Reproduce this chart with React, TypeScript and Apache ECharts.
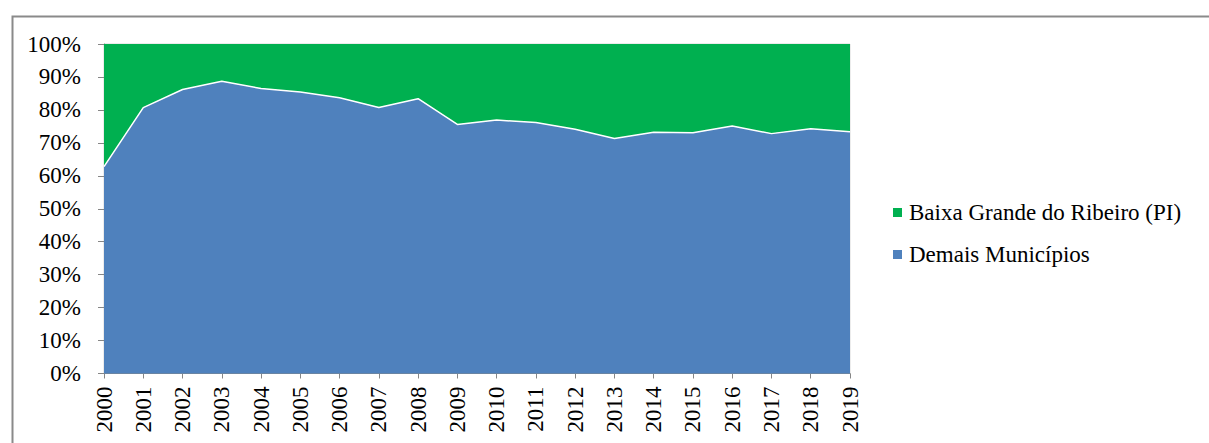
import React, { useEffect, useRef } from "react";
import * as echarts from "echarts";

const years = ["2000","2001","2002","2003","2004","2005","2006","2007","2008","2009","2010","2011","2012","2013","2014","2015","2016","2017","2018","2019"];
const demais = [62.8, 80.7, 86.2, 88.7, 86.5, 85.4, 83.7, 80.7, 83.4, 75.6, 76.9, 76.2, 74.1, 71.3, 73.2, 73.1, 75.1, 72.8, 74.3, 73.4];
const baixa = demais.map((v) => +(100 - v).toFixed(1));
const yTicks = [0, 10, 20, 30, 40, 50, 60, 70, 80, 90, 100];

const FONT = "Liberation Serif";
const FS = 23;

export default function App() {
  const ref = useRef<HTMLDivElement>(null);
  useEffect(() => {
    if (!ref.current) return;
    const chart = echarts.init(ref.current, undefined, { renderer: "svg" });
    chart.setOption({
      animation: false,
      backgroundColor: "#ffffff",
      textStyle: { fontFamily: FONT },
      graphic: [
        {
          type: "rect",
          left: 10,
          top: 14,
          shape: { width: 1400, height: 700 },
          style: { fill: "none", stroke: "#8a8a8a", lineWidth: 2 },
          silent: true,
        },
      ],
      grid: {
        left: 104,
        right: 359,
        top: 44,
        bottom: 69.5,
        show: true,
        borderColor: "#d9d9d9",
        borderWidth: 1,
        backgroundColor: "transparent",
      },
      legend: {
        orient: "vertical",
        left: 888,
        top: 196,
        itemWidth: 9,
        itemHeight: 9,
        itemGap: 19,
        icon: "rect",
        data: ["Baixa Grande do Ribeiro (PI)", "Demais Municípios"],
        textStyle: { fontFamily: FONT, fontSize: FS, color: "#000", padding: [0, 0, 0, 2] },
      },
      xAxis: {
        type: "category",
        data: years,
        boundaryGap: false,
        axisLine: { lineStyle: { color: "#868686", width: 1 } },
        axisTick: { show: true, length: 5, lineStyle: { color: "#868686" } },
        axisLabel: {
          rotate: 90,
          interval: 0,
          margin: 13,
          fontFamily: FONT,
          fontSize: FS,
          color: "#000",
        },
        splitLine: { show: false },
      },
      yAxis: {
        type: "value",
        min: yTicks[0],
        max: yTicks[yTicks.length - 1],
        interval: 10,
        axisLine: { show: true, lineStyle: { color: "#868686", width: 1 } },
        axisTick: { show: true, length: 6, lineStyle: { color: "#868686" } },
        axisLabel: {
          formatter: "{value}%",
          margin: 23,
          fontFamily: FONT,
          fontSize: FS,
          color: "#000",
        },
        splitLine: { show: false },
      },
      series: [
        {
          name: "Demais Municípios",
          type: "line",
          stack: "total",
          data: demais,
          symbol: "none",
          itemStyle: { color: "#4F81BD" },
          lineStyle: { color: "#ffffff", width: 1.5 },
          areaStyle: { color: "#4F81BD", opacity: 1 },
          z: 2,
        },
        {
          name: "Baixa Grande do Ribeiro (PI)",
          type: "line",
          stack: "total",
          data: baixa,
          symbol: "none",
          itemStyle: { color: "#00B050" },
          lineStyle: { width: 0, color: "#00B050" },
          areaStyle: { color: "#00B050", opacity: 1 },
          z: 1,
        },
      ],
    });
    return () => chart.dispose();
  }, []);
  return (
    <div
      ref={ref}
      style={{ position: "fixed", left: 0, top: 0, width: 1209, height: 443 }}
    />
  );
}
